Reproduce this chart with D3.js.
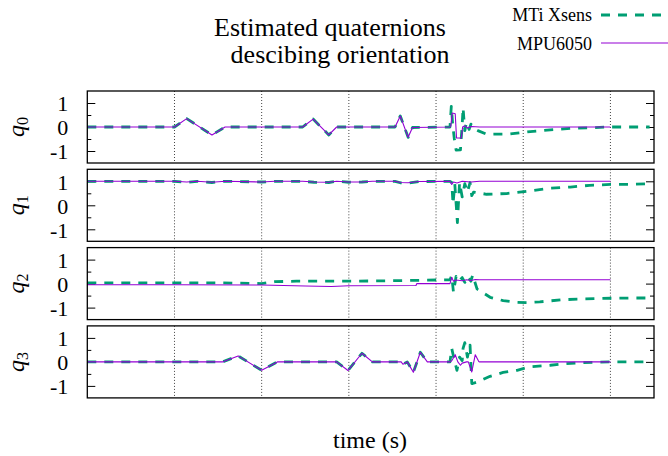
<!DOCTYPE html>
<html>
<head>
<meta charset="utf-8">
<script src="https://cdn.jsdelivr.net/npm/d3@7"></script>
<style>
  body { margin: 0; background: #fff; }
  svg { display: block; }
</style>
</head>
<body>
<svg id="chart" width="668" height="456"></svg>
<script>
// Time axis (s): grid every 10 s, no tick labels
const timeDomain = [0, 65];
const timeGrid = [10, 20, 30, 40, 50, 60];
const valueTicks = [-1, 0, 1];
const minorTicks = [-0.5, 0.5];
const panelNames = ["0", "1", "2", "3"];
const seriesNames = ["MTi Xsens", "MPU6050"];

// Quaternion components, [time (s), value]
const mtiQ0 = [[0,0],[10,0],[11.4,0.35],[14.3,-0.33],[15.8,0],[24.7,0],[25.9,0.33],[27.7,-0.33],[28.6,0],
  [35.3,0],[35.9,0.46],[36.8,-0.43],[37.3,-0.02],[41.6,0],
  [41.75,0.86],[41.9,0.15],[42.1,-0.5],[42.3,-0.96],[42.8,-0.95],[43.0,0.1],[43.1,0.8],[43.3,-0.15],
  [43.5,0.2],[43.8,-0.1],[44.0,0.12],[44.3,-0.05],[44.8,-0.15],[45.8,-0.3],[48.5,-0.29],[50.8,-0.19],
  [53.1,-0.12],[55.4,-0.06],[57.6,-0.03],[60,0],[64.5,0]];
const mpuQ0 = [[0,0],[10,0],[11.4,0.35],[14.3,-0.33],[15.8,0],[24.7,0],[25.9,0.33],[27.7,-0.33],[28.6,0],
  [35.3,0],[35.9,0.46],[36.8,-0.43],[37.3,-0.02],[41.6,0],
  [41.7,0.05],[41.85,0.58],[42.2,0.55],[42.35,-0.46],[42.9,-0.46],[43.05,0],[43.3,0.05],[43.6,-0.04],
  [44.0,0.02],[45,0],[60,0]];

const mtiQ1 = [[0,1],[10,1],[11.4,0.96],[12.6,1],[14.3,0.95],[15.8,1],[20,0.97],[21.5,1],[24.7,1],
  [26,0.96],[27.7,0.95],[28.6,1],[30,0.96],[31.5,0.97],[32.7,1],[35.3,1],[35.9,0.94],[36.8,0.93],
  [38,0.99],[41.6,1],
  [41.8,0.95],[41.95,0.05],[42.15,0.9],[42.45,-0.72],[42.7,0.95],[43.0,0.35],[43.3,0.9],[43.6,0.55],
  [43.9,0.95],[44.1,0.4],[44.3,0.55],[45.8,0.46],[48.1,0.49],[50.8,0.6],[53.1,0.71],[55.4,0.76],
  [57.6,0.83],[60,0.87],[62.3,0.87],[64.5,0.9]];
const mpuQ1 = [[0,1],[10,1],[11.4,0.97],[12.6,1],[14.3,0.96],[15.8,1],[20,0.97],[21.5,1],[24.7,1],
  [26,0.97],[27.7,0.96],[28.6,1],[30,0.97],[31.5,0.97],[32.7,1],[35.3,1],[35.9,0.95],[36.8,0.94],
  [38,0.99],[41.6,1],
  [41.8,0.87],[42.0,0.97],[42.4,0.93],[43,1],[44,0.97],[45,1],[60,1]];

const mtiQ2 = [[0,0.03],[10,0.03],[15,0.03],[19,0.01],[20,0],[21.5,0.08],[24,0.1],[30,0.1],[35,0.12],
  [40,0.15],[41.6,0.16],
  [41.8,0.33],[42.0,-0.36],[42.3,0.3],[42.6,0.1],[43,0.25],[43.3,0.05],[43.6,0.3],[44.0,0.1],
  [44.2,0.36],[44.7,-0.22],[46.2,-0.57],[47.7,-0.71],[49.3,-0.78],[50.4,-0.79],[51.9,-0.76],
  [54.6,-0.67],[56.8,-0.64],[60,-0.61],[62.6,-0.6],[64.5,-0.6]];
const mpuQ2 = [[0,-0.05],[10,-0.05],[20,-0.06],[25,-0.1],[28,-0.12],[30,-0.09],[37.7,-0.08],
  [37.8,0],[41.6,0],[41.8,0.26],[42.0,0.1],[42.3,0.15],[43,0.12],[43.5,0.16],[44,0.13],[44.5,0.17],
  [45,0.16],[60,0.16]];

const mtiQ3 = [[0,0],[15.5,0],[17.3,0.25],[20,-0.35],[21.8,0],[28.6,0],[29.9,-0.36],[31.5,0.36],
  [32.7,0],[36.0,0],[36.2,-0.1],[36.7,0],[37.4,-0.43],[38.2,0.4],[39.0,0],[41.6,0],
  [41.8,0.56],[42.1,0.07],[42.4,-0.35],[42.7,0.2],[43.0,0.05],[43.1,0.56],[43.3,0.8],[43.6,0.2],
  [43.9,0.7],[44.1,-0.9],[44.2,-0.9],[44.8,-0.83],[46.2,-0.6],[47.7,-0.44],[49.3,-0.35],
  [50.8,-0.2],[53.1,-0.14],[54.6,-0.08],[56.8,-0.03],[60,0],[64.5,0]];
const mpuQ3 = [[0,0],[15.5,0],[17.3,0.25],[20,-0.35],[21.8,0],[28.6,0],[29.9,-0.36],[31.5,0.36],
  [32.7,0],[36.0,0],[36.2,-0.1],[36.7,0],[37.4,-0.43],[38.2,0.4],[39.0,0],[41.6,0],
  [41.8,0.05],[42.2,0.3],[42.5,0],[42.8,-0.14],[43.0,-0.05],[43.5,0],[43.7,0],[44.1,-0.42],
  [44.5,0.3],[44.9,0.02],[45,0],[60,0]];

const mtiSeries = [mtiQ0, mtiQ1, mtiQ2, mtiQ3];
const mpuSeries = [mpuQ0, mpuQ1, mpuQ2, mpuQ3];

const colors = { mti: "#009e73", mpu: "#9400d3" };
const serif = '"Liberation Serif"';

const svg = d3.select("#chart");
const left = 87.3, right = 654;
const panelH = 72, panelStep = 78.3, firstTop = 91;

const x = d3.scaleLinear().domain(timeDomain).range([left, right]);

const defs = svg.append("defs");

panelNames.forEach((name, i) => {
  const top = firstTop + i * panelStep;
  const y = d3.scaleLinear().domain([-1.5, 1.5]).range([top + panelH, top]);
  const g = svg.append("g");

  defs.append("clipPath").attr("id", "clip" + i)
    .append("rect").attr("x", left).attr("y", top).attr("width", right - left).attr("height", panelH);

  // dotted vertical grid
  g.append("g").selectAll("line").data(timeGrid).join("line")
    .attr("x1", d => x(d)).attr("x2", d => x(d))
    .attr("y1", top).attr("y2", top + panelH)
    .attr("stroke", "#444").attr("stroke-width", 1).attr("stroke-dasharray", "1,2");

  // value axes, ticks pointing inward on both sides
  const axL = g.append("g").attr("transform", `translate(${left},0)`)
    .call(d3.axisLeft(y).tickValues(valueTicks).tickSize(-8).tickPadding(19)
      .tickFormat(d => d < 0 ? "-" + Math.abs(d) : String(d)));
  axL.select(".domain").remove();
  axL.selectAll("line").attr("stroke", "#000");
  axL.selectAll("text")
    .style("font-family", serif).style("font-size", "22px")
    .attr("dy", "0.36em").attr("fill", "#000");

  const axLm = g.append("g").attr("transform", `translate(${left},0)`)
    .call(d3.axisLeft(y).tickValues(minorTicks).tickSize(-4).tickFormat(""));
  axLm.select(".domain").remove();

  const axR = g.append("g").attr("transform", `translate(${right},0)`)
    .call(d3.axisRight(y).tickValues(valueTicks).tickSize(-8).tickFormat(""));
  axR.select(".domain").remove();
  const axRm = g.append("g").attr("transform", `translate(${right},0)`)
    .call(d3.axisRight(y).tickValues(minorTicks).tickSize(-4).tickFormat(""));
  axRm.select(".domain").remove();

  // series
  const line = d3.line().x(d => x(d[0])).y(d => y(d[1]));
  const plot = g.append("g").attr("clip-path", `url(#clip${i})`);
  plot.append("path").datum(mtiSeries[i])
    .attr("d", line).attr("fill", "none").attr("stroke", colors.mti)
    .attr("stroke-width", 2.8).attr("stroke-dasharray", "9,8").attr("stroke-linejoin", "round");
  plot.append("path").datum(mpuSeries[i])
    .attr("d", line).attr("fill", "none").attr("stroke", colors.mpu)
    .attr("stroke-width", 1.1).attr("stroke-linejoin", "round");

  // border
  g.append("rect").attr("x", left).attr("y", top).attr("width", right - left).attr("height", panelH)
    .attr("fill", "none").attr("stroke", "#000").attr("stroke-width", 1.3);

  // component label q_i
  const lab = svg.append("text")
    .attr("transform", `translate(23.5,${y(0)}) rotate(-90)`)
    .attr("text-anchor", "middle")
    .style("font-family", serif).style("font-size", "24px").style("font-style", "italic");
  lab.append("tspan").text("q");
  lab.append("tspan").style("font-size", "16px").style("font-style", "normal").attr("dy", 4).text(name);
});

// title
const titleLines = [
  { text: "Estimated quaternions", cx: 330, base: 36 },
  { text: "descibing orientation", cx: 340, base: 63 }
];
titleLines.forEach(t => {
  svg.append("text").attr("x", t.cx).attr("y", t.base).attr("text-anchor", "middle")
    .style("font-family", serif).style("font-size", "26px").text(t.text);
});

// legend
const legendRows = [
  { label: seriesNames[0], color: colors.mti, dash: "9,8", width: 2.8, y: 15, base: 21 },
  { label: seriesNames[1], color: colors.mpu, dash: null, width: 1.1, y: 43, base: 50 }
];
legendRows.forEach(r => {
  svg.append("text").attr("x", 592).attr("y", r.base).attr("text-anchor", "end")
    .style("font-family", serif).style("font-size", "18px").text(r.label);
  svg.append("line").attr("x1", 601).attr("x2", 700).attr("y1", r.y).attr("y2", r.y)
    .attr("stroke", r.color).attr("stroke-width", r.width)
    .attr("stroke-dasharray", r.dash);
});

// x-axis title
svg.append("text").attr("x", 370).attr("y", 448).attr("text-anchor", "middle")
  .style("font-family", serif).style("font-size", "24px").text("time (s)");
</script>
</body>
</html>
